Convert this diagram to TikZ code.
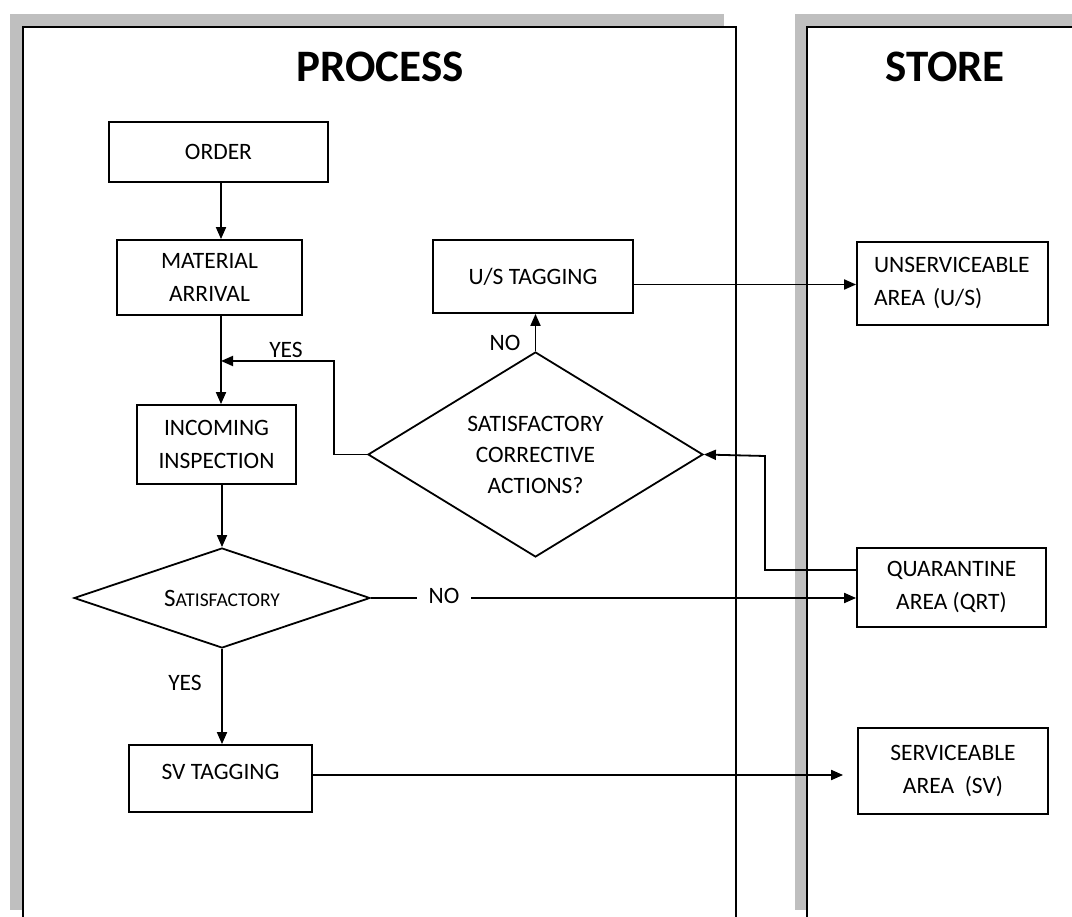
\documentclass[tikz,border=0pt]{standalone}
\usepackage{fontspec}
\setmainfont{Carlito}
\usetikzlibrary{arrows.meta,shapes.geometric}
\begin{document}
\begin{tikzpicture}[x=1pt,y=-1pt,
  box/.style={draw,line width=1.8pt,inner sep=2pt,align=center,text=black,font=\fontsize{23.5}{33}\selectfont},
  dia/.style={draw,diamond,line width=1.8pt,inner sep=0pt,align=center,text=black,font=\fontsize{23.5}{31}\selectfont},
  lbl/.style={font=\fontsize{23.5}{26}\selectfont,inner sep=1pt,text=black},
  arr/.style={line width=1.8pt,-{Triangle[length=12pt,width=10pt]}},
  title/.style={font=\fontsize{45}{50}\selectfont\bfseries,inner sep=0pt},
  panel/.style={line width=1.5pt},
  shade/.style={fill=gray!50,draw=none}]
\useasboundingbox (0,0) rectangle (1072,917);
% panels
\fill[shade] (10,14) rectangle (724,27);
\fill[shade] (10,14) rectangle (23,910);
\draw[panel] (23,917) -- (23,27) -- (736,27) -- (736,917);
\fill[shade] (795,14) rectangle (1072,27);
\fill[shade] (795,14) rectangle (807,910);
\draw[panel] (807,917) -- (807,27) -- (1072,27);
\node[title] (tproc) at (380,67) {PROCESS};
\node[title] (tstore) at (945,67) {STORE};
% boxes
\node[box,minimum width=219,minimum height=60] (order) at (218.5,152) {ORDER};
\node[box,minimum width=185,minimum height=75] (mat) at (209.5,277.5) {MATERIAL\\ARRIVAL};
\node[box,minimum width=159,minimum height=79] (inc) at (216.5,444.5) {INCOMING\\INSPECTION};
\node[box,minimum width=183,minimum height=67] (sv) at (220.5,778.5) {\raisebox{13pt}{SV TAGGING}};
\node[box,minimum width=200,minimum height=73] (us) at (533,276.5) {U/S TAGGING};
\node[box,minimum width=191,minimum height=83,text width=157pt,align=left,inner xsep=17pt] (unserv) at (952.5,283.5) {UNSERVICEABLE\\AREA (U/S)};
\node[box,minimum width=189,minimum height=79] (qrt) at (951.5,587.5) {QUARANTINE\\AREA (QRT)};
\node[box,minimum width=190,minimum height=86] (serv) at (953,771) {SERVICEABLE\\AREA\ \ (SV)};
% diamonds
\node[dia,minimum width=296,minimum height=100,aspect=2.96] (d1) at (222,598) {{\fontsize{25}{26}\selectfont S}{\fontsize{19.5}{26}\selectfont ATISFACTORY}};
\node[dia,minimum width=335,minimum height=205,aspect=1.63] (d2) at (535.5,454.5) {SATISFACTORY\\CORRECTIVE\\ACTIONS?};
% connectors
\coordinate (spine) at (221,0);
\coordinate (yesturn) at (334,361);
\coordinate (qturn) at (765,456);
\draw[arr] (order.south -| spine) -- (mat.north -| spine);
\draw[arr] (mat.south -| spine) -- (inc.north -| spine);
\draw[arr] (d2.west) -| (yesturn) -- (yesturn -| spine);
\node[lbl] (yes1) at (286,350) {YES};
\draw[arr] (inc.south -| d1.north) -- (d1.north);
\draw[arr] (d1.south) -- (sv.north -| d1.south);
\node[lbl] (yes2) at (185,683) {YES};
\draw[arr] (d1.east) -- (d1.east -| qrt.west);
\node[lbl,fill=white,inner xsep=12pt] (no1) at (444,596) {NO};
\draw[arr] ([yshift=17.5pt]qrt.west) -| (qturn) -- (d2.east);
\draw[arr] (d2.north) -- (d2.north |- us.south);
\node[lbl] (no2) at (505,343) {NO};
\draw[arr] ([yshift=-8pt]us.east) -- ([yshift=-8pt]us.east -| unserv.west);
\draw[arr,shorten >=14pt] ([yshift=3.5pt]sv.east) -- ([yshift=3.5pt]sv.east -| serv.west);
\end{tikzpicture}
\end{document}
